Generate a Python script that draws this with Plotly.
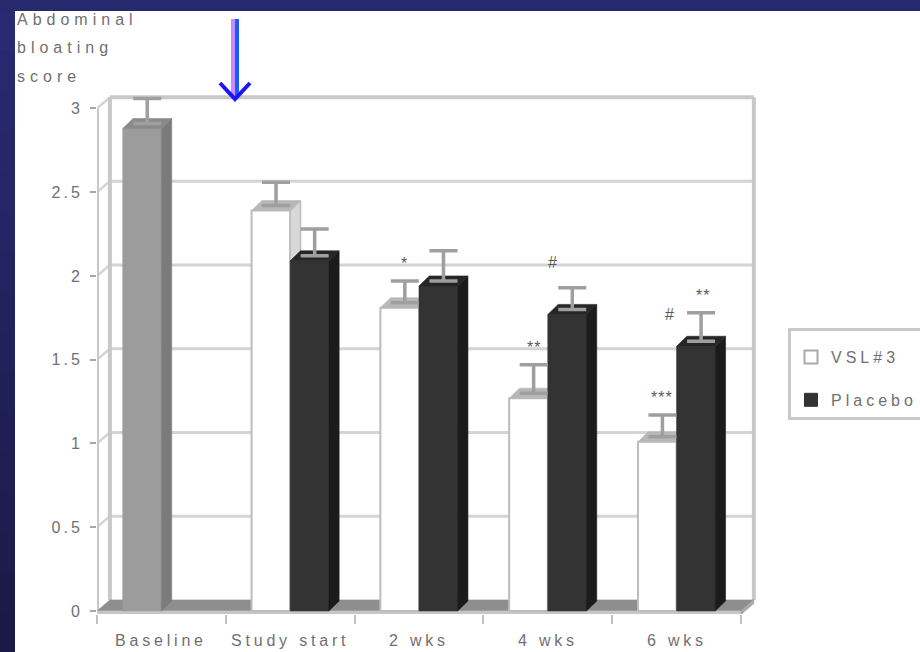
import plotly.graph_objects as go

# ---- data -------------------------------------------------------------
categories = ["Baseline", "Study start", "2 wks", "4 wks", "6 wks"]
baseline_score = [2.88, None, None, None, None]
baseline_err = [0.15, None, None, None, None]
vsl3_score = [None, 2.39, 1.81, 1.27, 1.01]
vsl3_err = [None, 0.14, 0.13, 0.17, 0.13]
placebo_score = [None, 2.09, 1.94, 1.77, 1.58]
placebo_err = [None, 0.16, 0.18, 0.13, 0.17]
vsl3_marks = ["", "", "*", "**", "***"]
placebo_hash = ["", "", "", "#", "#"]
placebo_stars = ["", "", "", "", "**"]
y_ticks = [0, 0.5, 1, 1.5, 2, 2.5, 3]
y_title = ["Abdominal", "bloating", "score"]
series_names = ["VSL#3", "Placebo"]

# ---- pseudo-3D geometry (data units) ------------------------------------
BAR_W = 0.30      # width of a column's front face
BDX, BDY = 0.08, 0.06     # column depth offset
WDX, WDY = 0.10, 0.066    # wall depth offset
FLOOR_T = 0.022           # floor slab thickness
X_RANGE = [-0.5, 4.6475]
Y_RANGE = [-0.018, 3.11]

# page layout in pixels
L, R, T, B = 97, 760, 90, 614
PW, PH = R - L, B - T


def px_x(p):
    return (p - L) / PW


def px_y(p):
    return (B - p) / PH


def spaced(text, px):
    return f'<span style="letter-spacing:{px}px">{text}</span>'


TXT = "#707070"
FONT = "Liberation Sans, Arial, sans-serif"
n = len(categories)
centers = list(range(n))

fig = go.Figure()


def poly_trace(polys, fill, line_color=None, line_width=0.6):
    xs, ys = [], []
    for poly in polys:
        for px_, py_ in poly:
            xs.append(px_)
            ys.append(py_)
        xs.append(poly[0][0])
        ys.append(poly[0][1])
        xs.append(None)
        ys.append(None)
    fig.add_trace(go.Scatter(
        x=xs, y=ys, mode="lines", fill="toself", fillcolor=fill,
        line=dict(color=line_color or fill, width=line_width),
        hoverinfo="skip", showlegend=False))


def line_trace(segments, color, width):
    xs, ys = [], []
    for (x0, y0), (x1, y1) in segments:
        xs += [x0, x1, None]
        ys += [y0, y1, None]
    fig.add_trace(go.Scatter(x=xs, y=ys, mode="lines",
                             line=dict(color=color, width=width),
                             hoverinfo="skip", showlegend=False))


# ---- walls and floor ----------------------------------------------------
x_left, x_right = -0.5, n - 0.5
top_val = y_ticks[-1]
grid = [((x_left + WDX, v + WDY), (x_right + WDX, v + WDY)) for v in y_ticks[1:-1]]
line_trace(grid, "#d4d4d4", 3)
side_grid = [((x_left, v), (x_left + WDX, v + WDY)) for v in y_ticks[1:]]
line_trace(side_grid, "#d4d4d4", 2.5)
frame = [
    ((x_left + WDX, top_val + WDY), (x_right + WDX, top_val + WDY)),
    ((x_right + WDX, WDY), (x_right + WDX, top_val + WDY)),
    ((x_left + WDX, WDY), (x_left + WDX, top_val + WDY)),
    ((x_left, 0), (x_left, top_val)),
]
line_trace(frame, "#c8c8c8", 4)

poly_trace([[(x_left, 0), (x_right, 0), (x_right + WDX, WDY), (x_left + WDX, WDY)]], "#8e8e8e")
poly_trace([[(x_left, -FLOOR_T), (x_right, -FLOOR_T), (x_right, 0), (x_left, 0)]], "#c6c6c6")
poly_trace([[(x_right, -FLOOR_T), (x_right + WDX, WDY - FLOOR_T),
             (x_right + WDX, WDY), (x_right, 0)]], "#a9a9a9")


# ---- columns ------------------------------------------------------------
def column_faces(lefts, values):
    front, side, top = [], [], []
    for x0, v in zip(lefts, values):
        if v is None:
            continue
        x1 = x0 + BAR_W
        front.append([(x0, 0), (x1, 0), (x1, v), (x0, v)])
        side.append([(x1, 0), (x1 + BDX, BDY), (x1 + BDX, v + BDY), (x1, v)])
        top.append([(x0, v), (x1, v), (x1 + BDX, v + BDY), (x0 + BDX, v + BDY)])
    return front, side, top


left_slot = [c - BAR_W for c in centers]
right_slot = [c for c in centers]

series = [
    (left_slot, baseline_score, ("#9c9c9c", "#7b7b7b", "#8a8a8a"), None),
    (left_slot, vsl3_score, ("#ffffff", "#d8d8d8", "#b8b8b8"), "#bdbdbd"),
    (right_slot, placebo_score, ("#333333", "#1b1b1b", "#262626"), None),
]
for lefts, vals, (c_front, c_side, c_top), edge in series:
    fr, sd, tp = column_faces(lefts, vals)
    poly_trace(fr, c_front, edge, 2 if edge else 0.6)
    poly_trace(sd, c_side, edge, 1.5 if edge else 0.6)
    poly_trace(tp, c_top)

# ---- error bars (upper only) -------------------------------------------
for lefts, vals, errs in [(left_slot, baseline_score, baseline_err),
                          (left_slot, vsl3_score, vsl3_err),
                          (right_slot, placebo_score, placebo_err)]:
    xs, ys, es = [], [], []
    for x0, v, e in zip(lefts, vals, errs):
        if v is None:
            continue
        xs.append(x0 + BAR_W / 2 + BDX / 2)
        ys.append(v + BDY / 2)
        es.append(e)
    fig.add_trace(go.Scatter(
        x=xs, y=ys, mode="markers",
        marker=dict(size=1, color="rgba(0,0,0,0)"),
        error_y=dict(type="data", array=es, arrayminus=[0] * len(es),
                     symmetric=False, color="#9f9f9f", thickness=3.5, width=14),
        hoverinfo="skip", showlegend=False))

# ---- legend entries -----------------------------------------------------
fig.add_trace(go.Scatter(
    x=[None], y=[None], mode="markers", name=spaced(series_names[0], 4),
    legendgroup="a",
    marker=dict(symbol="square", size=13, color="#ffffff",
                line=dict(color="#aaaaaa", width=2))))
fig.add_trace(go.Scatter(
    x=[None], y=[None], mode="markers", name=spaced(series_names[1], 4),
    legendgroup="b",
    marker=dict(symbol="square", size=13, color="#333333",
                line=dict(color="#333333", width=1))))

annotations = []

# significance markers
mark_font = dict(family=FONT, size=16, color="#5a5a5a")
for i in range(n):
    if vsl3_marks[i]:
        cx = left_slot[i] + BAR_W / 2 + BDX / 2
        cy = vsl3_score[i] + BDY / 2 + vsl3_err[i]
        annotations.append(dict(x=cx, y=cy, xref="x", yref="y", text=spaced(vsl3_marks[i], 1),
                                showarrow=False, yshift=17, font=mark_font))
    cx = right_slot[i] + BAR_W / 2 + BDX / 2
    if placebo_score[i] is not None:
        cy = placebo_score[i] + BDY / 2 + placebo_err[i]
        if placebo_stars[i]:
            annotations.append(dict(x=cx, y=cy, xref="x", yref="y", text=spaced(placebo_stars[i], 1),
                                    showarrow=False, yshift=17, xshift=2, font=mark_font))
        if placebo_hash[i]:
            if placebo_stars[i]:
                annotations.append(dict(x=cx, y=cy, xref="x", yref="y", text=placebo_hash[i],
                                        showarrow=False, yshift=-2, xshift=-32, font=mark_font))
            else:
                annotations.append(dict(x=cx, y=cy, xref="x", yref="y", text=placebo_hash[i],
                                        showarrow=False, yshift=25, xshift=-20, font=mark_font))

# category labels
for c, name in zip(centers, categories):
    annotations.append(dict(x=c, y=px_y(630), xref="x", yref="paper", text=spaced(name, 3.8),
                            showarrow=False, yanchor="top", xanchor="center",
                            font=dict(family=FONT, size=16, color=TXT)))

# axis title, stacked lines
for top_px, word in zip([9, 37, 66], y_title):
    annotations.append(dict(x=px_x(15), y=px_y(top_px), xref="paper", yref="paper",
                            text=spaced(word, 5), showarrow=False,
                            xanchor="left", yanchor="top",
                            font=dict(family=FONT, size=16, color=TXT)))

# ---- background, frame and arrow --------------------------------------
shapes = []
shapes.append(dict(type="rect", xref="paper", yref="paper", layer="below",
                   x0=px_x(15), x1=px_x(925), y0=px_y(660), y1=px_y(11),
                   fillcolor="#ffffff", line=dict(width=0)))
shapes.append(dict(type="rect", xref="paper", yref="paper", layer="below",
                   x0=px_x(-5), x1=px_x(925), y0=px_y(11), y1=px_y(-5),
                   fillcolor="#27296f", line=dict(width=0)))
steps = 16
c_top_rgb, c_bot_rgb = (40, 42, 114), (26, 26, 71)
for k in range(steps):
    t = k / (steps - 1)
    rgb = tuple(round(a + (b - a) * t) for a, b in zip(c_top_rgb, c_bot_rgb))
    y0p = 11 + (652 - 11) * k / steps
    y1p = 11 + (652 - 11) * (k + 1) / steps
    shapes.append(dict(type="rect", xref="paper", yref="paper", layer="below",
                       x0=px_x(-5), x1=px_x(15), y0=px_y(y1p + 1), y1=px_y(y0p),
                       fillcolor="rgb(%d,%d,%d)" % rgb, line=dict(width=0)))

shapes.append(dict(type="line", xref="paper", yref="paper",
                   x0=px_x(233), x1=px_x(233), y0=px_y(19), y1=px_y(97),
                   line=dict(color="#c98cff", width=4)))
shapes.append(dict(type="line", xref="paper", yref="paper",
                   x0=px_x(237), x1=px_x(237), y0=px_y(19), y1=px_y(97),
                   line=dict(color="#1b5cff", width=4)))
shapes.append(dict(type="path", xref="paper", yref="paper",
                   path="M %f,%f L %f,%f L %f,%f" % (px_x(220), px_y(83), px_x(235), px_y(99),
                                                     px_x(250), px_y(83)),
                   line=dict(color="#1d14ff", width=4)))

fig.update_layout(
    width=920, height=652, autosize=False,
    margin=dict(l=L, r=920 - R, t=T, b=652 - B, pad=0, autoexpand=False),
    paper_bgcolor="#22235e", plot_bgcolor="rgba(0,0,0,0)",
    font=dict(family=FONT, color=TXT),
    showlegend=True,
    legend=dict(x=px_x(788), y=px_y(328), xanchor="left", yanchor="top",
                bgcolor="#ffffff", bordercolor="#c9c9c9", borderwidth=3,
                title=dict(text=" ", font=dict(size=7)),
                font=dict(family=FONT, size=16, color=TXT), tracegroupgap=19),
    xaxis=dict(range=X_RANGE, showgrid=False, zeroline=False, showline=False,
               tickvals=[c - 0.5 for c in centers] + [n - 0.5], ticks="outside",
               ticklen=9, tickwidth=2, tickcolor="#c0c0c0", showticklabels=False,
               fixedrange=True),
    yaxis=dict(range=Y_RANGE, showgrid=False, zeroline=False, showline=False,
               tickvals=y_ticks, ticktext=[spaced(f"{v:g}", 3) for v in y_ticks],
               ticks="outside", ticklen=6, tickwidth=2, tickcolor="#a8a8a8",
               ticklabelstandoff=4, tickfont=dict(family=FONT, size=16, color=TXT),
               fixedrange=True),
    annotations=annotations,
    shapes=shapes,
)

fig.write_html("out.html")
